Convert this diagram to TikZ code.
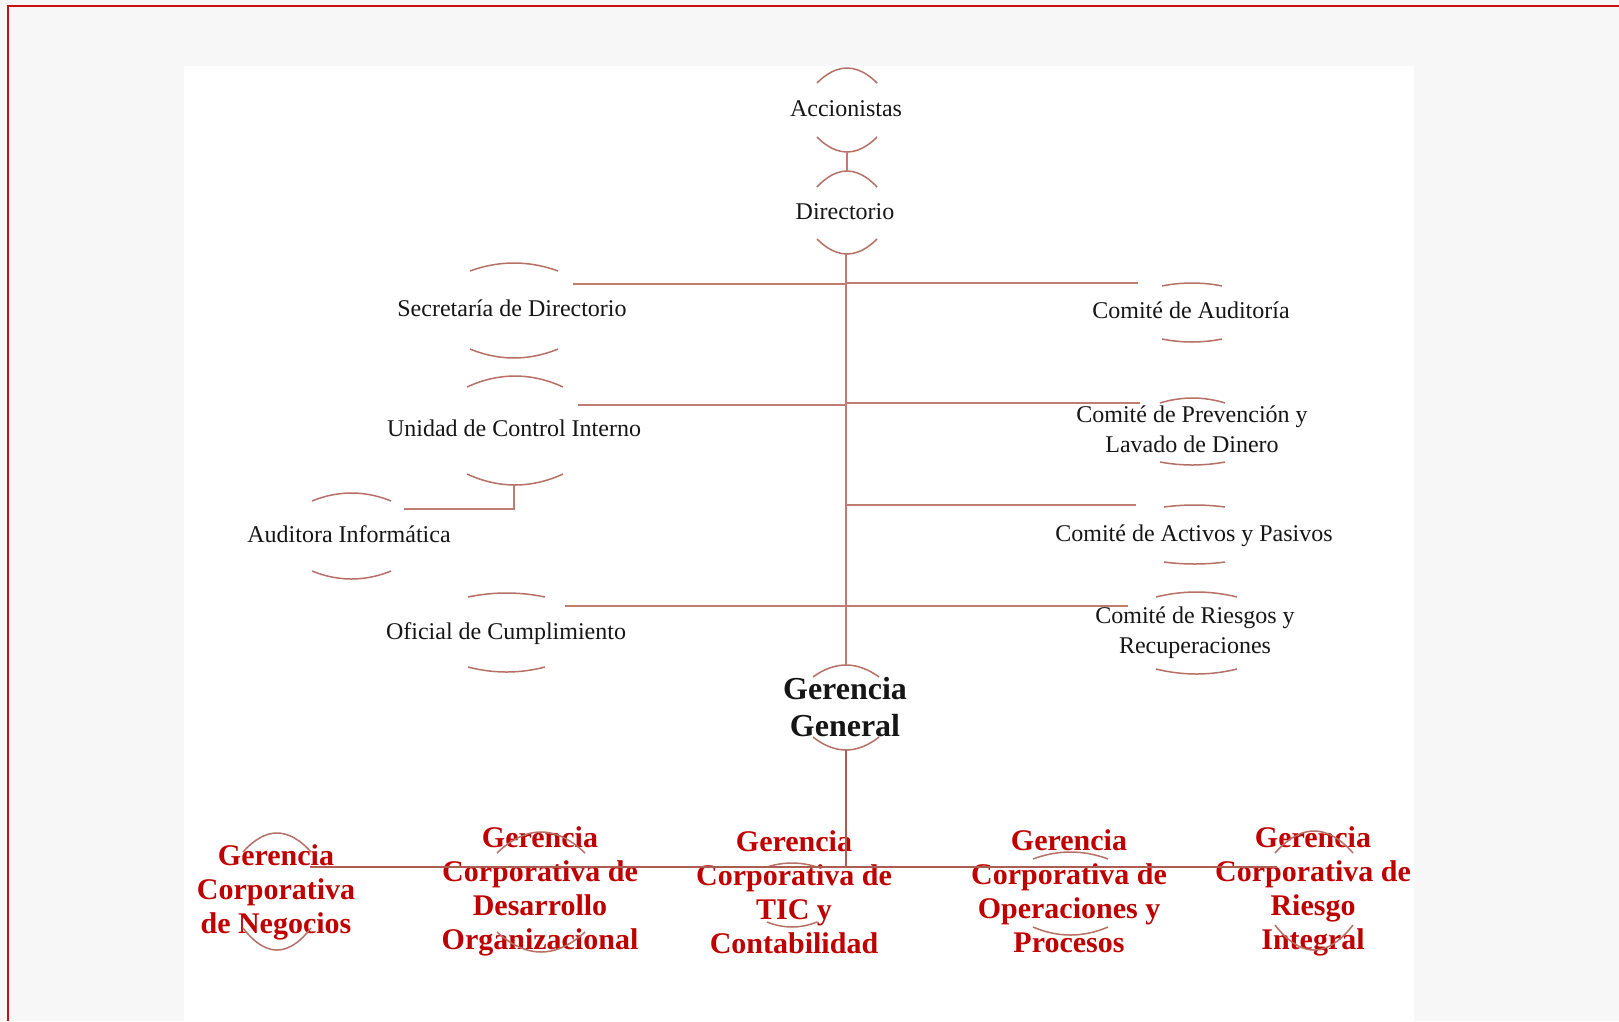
\documentclass[tikz,border=0pt]{standalone}
\usepackage{fontspec}
\setmainfont{Liberation Serif}
\definecolor{bggray}{RGB}{247,247,247}
\definecolor{frame}{RGB}{200,16,16}
\definecolor{linec}{RGB}{192,124,112}
\definecolor{trunkc}{RGB}{172,92,80}
\definecolor{arcc}{RGB}{182,112,102}
\definecolor{txtblack}{RGB}{22,22,22}
\definecolor{corpred}{RGB}{192,0,0}
\newcommand\arcpair[6]{%
  \draw[deco] (#1,#3) parabola bend ({(#1+#2)/2},#4) (#2,#3);
  \draw[deco] (#1,#5) parabola bend ({(#1+#2)/2},#6) (#2,#5);}
\tikzset{
  lbl/.style={font=\fontsize{24}{30}\selectfont, text=txtblack, align=center, inner sep=0pt},
  gcorp/.style={font=\fontsize{30}{34}\selectfont\bfseries, text=corpred, align=center, inner sep=0pt},
  ggen/.style={font=\fontsize{32}{37}\selectfont\bfseries, text=txtblack, align=center, inner sep=0pt},
  link/.style={draw=linec, line width=2pt},
  trunk/.style={draw=trunkc, line width=2.4pt},
  deco/.style={draw=arcc, line width=1.5pt},
}
\begin{document}
\begin{tikzpicture}[x=1pt,y=-1pt]
\useasboundingbox (0,0) rectangle (1619,1021);
% background and frame
\fill[bggray] (0,0) rectangle (1619,1021);
\fill[white] (184,66) rectangle (1414,1021);
\draw[frame, line width=2pt] (1619,5.5) -- (8,5.5) -- (8,1021);

% nodes
\node[lbl] (acc) at (846,109) {Accionistas};
\node[lbl] (dir) at (845,212) {Directorio};
\node[lbl] (sec) at (512,308) {Secretaría de Directorio};
\node[lbl] (uci) at (514,428) {Unidad de Control Interno};
\node[lbl] (aud) at (349,534) {Auditora Informática};
\node[lbl] (ofc) at (506,634) {Oficial de Cumplimiento};
\node[lbl] (cau) at (1191,310) {Comité de Auditoría};
\node[lbl] (cpl) at (1192,429) {Comité de Prevención y\\Lavado de Dinero};
\node[lbl] (cap) at (1194,536) {Comité de Activos y Pasivos};
\node[lbl] (crr) at (1195,633) {Comité de Riesgos y\\Recuperaciones};
\node[ggen] (gg) at (845,707) {Gerencia\\General};
\node[gcorp] (gneg) at (276,892) {Gerencia\\Corporativa\\de Negocios};
\node[gcorp] (gdes) at (540,891) {Gerencia\\Corporativa de\\Desarrollo\\Organizacional};
\node[gcorp] (gtic) at (794,892) {Gerencia\\Corporativa de\\TIC y\\Contabilidad};
\node[gcorp] (gope) at (1069,891) {Gerencia\\Corporativa de\\Operaciones y\\Procesos};
\node[gcorp] (grie) at (1313,891) {Gerencia\\Corporativa de\\Riesgo\\Integral};

% decorative circle arcs of each node
\arcpair{817}{877}{83}{68}{137}{152}
\arcpair{817}{877}{187}{171}{239}{254}
\arcpair{470}{558}{271}{263}{349}{358}
\arcpair{467}{563}{387}{376}{474}{485}
\arcpair{312}{391}{501}{493}{571}{579}
\arcpair{468}{545}{597}{593}{667}{672}
\arcpair{1162}{1222}{286}{283}{339}{342}
\arcpair{1160}{1225}{403}{398}{462}{465}
\arcpair{1164}{1225}{507}{505}{562}{564}
\arcpair{1156}{1237}{597}{592}{669}{674}
\arcpair{813}{879}{677}{665}{737}{750}
\arcpair{243}{311}{852}{833}{928}{950}
\arcpair{497}{585}{853}{832}{932}{952}
\arcpair{767}{817}{867}{863}{922}{927}
\arcpair{1033}{1108}{859}{852}{927}{935}
\arcpair{1275}{1353}{853}{831}{925}{950}

% connector anchor points
\coordinate (accB) at (847,152);
\coordinate (dirT) at (847,171);
\coordinate (dirB) at (846,254);
\coordinate (ggT) at (846,665);
\coordinate (ggB) at (846,750);
\coordinate (secR) at (573,284);
\coordinate (jsec) at (846,284);
\coordinate (cauL) at (1138,283);
\coordinate (jcau) at (846,283);
\coordinate (uciR) at (578,405);
\coordinate (juci) at (846,405);
\coordinate (cplL) at (1140,403);
\coordinate (jcpl) at (846,403);
\coordinate (capL) at (1136,505);
\coordinate (jcap) at (846,505);
\coordinate (ofcR) at (565,606);
\coordinate (crrL) at (1128,606);
\coordinate (uciB) at (514,485);
\coordinate (audR) at (404,509);
\coordinate (busL) at (310,867);
\coordinate (busR) at (1277,867);
\coordinate (busM) at (846,867);

% connectors
\draw[link] (accB) -- (dirT);
\draw[link] (dirB) -- (ggT);
\draw[link] (secR) -- (jsec);
\draw[link] (jcau) -- (cauL);
\draw[link] (uciR) -- (juci);
\draw[link] (jcpl) -- (cplL);
\draw[link] (jcap) -- (capL);
\draw[link] (ofcR) -- (crrL);
\draw[link] (uciB) |- (audR);
\draw[trunk] (ggB) -- (busM);
\draw[trunk] (busL) -- (busR);
\end{tikzpicture}
\end{document}
